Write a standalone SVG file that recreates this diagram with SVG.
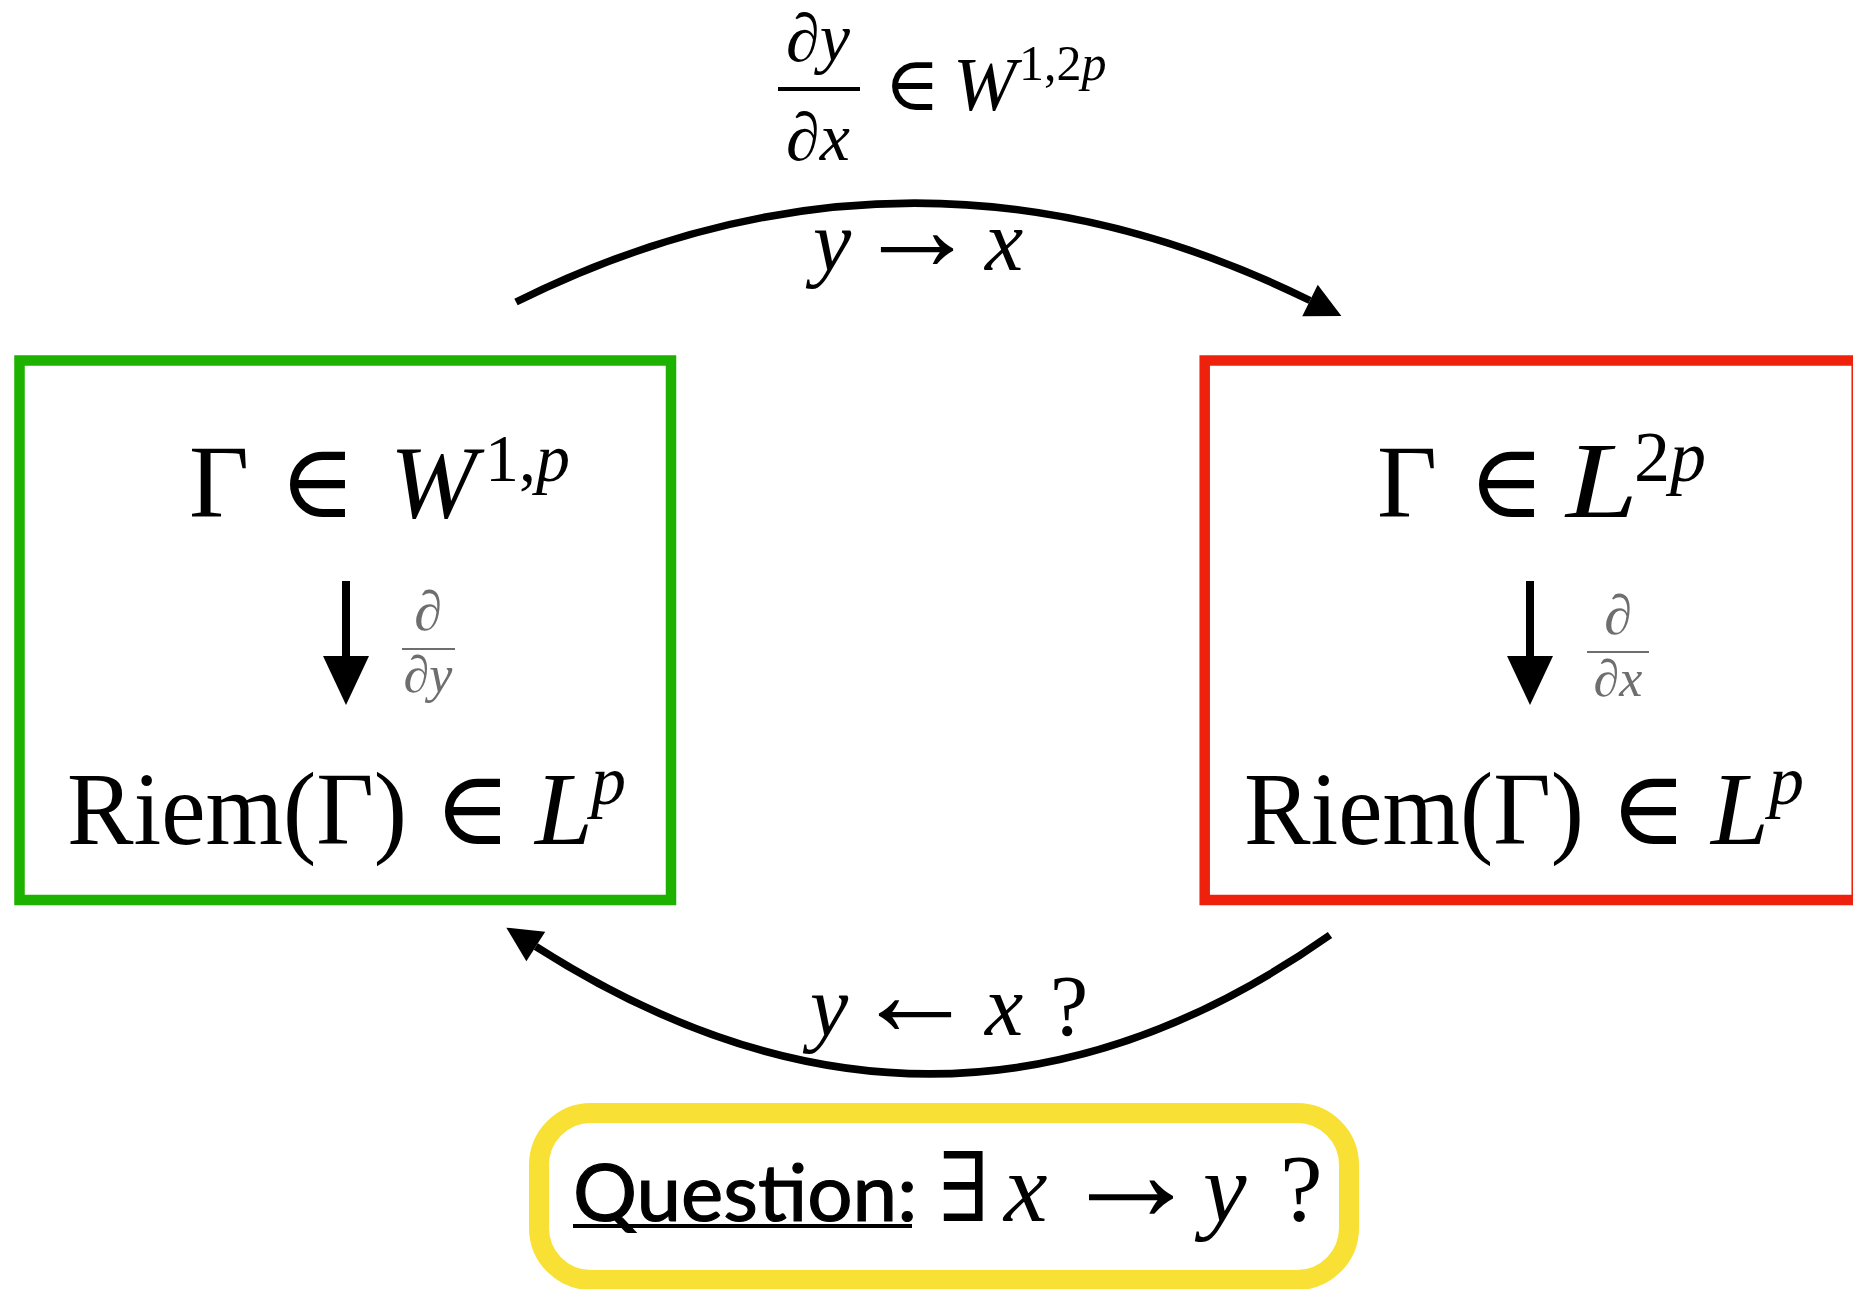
<svg xmlns="http://www.w3.org/2000/svg" width="1853" height="1289" viewBox="0 0 1853 1289">
<style>
.serif{font-family:"Liberation Serif","DejaVu Serif",serif;fill:#000}
.it{font-style:italic}
.gray{fill:#6e6e6e}
.conn{fill:none;stroke:#000;stroke-width:7.5}
.vconn{fill:none;stroke:#000;stroke-width:8}
.sans{font-family:Lato,"Open Sans",sans-serif;fill:#000;stroke:#000;stroke-width:1.2}
</style>
<defs>
<marker id="ah" markerUnits="userSpaceOnUse" markerWidth="40" markerHeight="40" refX="0" refY="0" orient="auto" overflow="visible">
<path d="M0,-17.5 L35,0 L0,17.5 z" fill="#000"/>
</marker>
<marker id="ahv" markerUnits="userSpaceOnUse" markerWidth="50" markerHeight="50" refX="0" refY="0" orient="auto" overflow="visible">
<path d="M0,-23 L49,0 L0,23 z" fill="#000"/>
</marker>
</defs>
<rect width="1853" height="1289" fill="#fff"/>

<g id="connectors">
<path class="conn" d="M516,302 Q913,105 1310,300.5" marker-end="url(#ah)"/>
<path class="conn" d="M1330,935 Q943.6,1207 535.8,946.5" marker-end="url(#ah)"/>
</g>

<g id="label-top">
<text class="serif it" x="818" y="61" font-size="68" text-anchor="middle">∂y</text>
<rect x="778" y="87" width="82" height="4" fill="#000"/>
<text class="serif it" x="818" y="160" font-size="68" text-anchor="middle">∂x</text>
<text class="serif" x="884" y="110" font-size="76">∈</text>
<text class="serif it" x="953" y="110" font-size="76">W</text>
<text class="serif" x="1019" y="80" font-size="50">1,2<tspan class="it">p</tspan></text>
<text class="serif it" x="813" y="270" font-size="86">y</text>
<text class="serif" x="856" y="270" font-size="122">→</text>
<text class="serif it" x="985" y="270" font-size="86">x</text>
</g>

<g id="label-bottom">
<text class="serif it" x="810" y="1035" font-size="86">y</text>
<text class="serif" x="854" y="1035" font-size="122">←</text>
<text class="serif it" x="985" y="1035" font-size="86">x</text>
<text class="serif" x="1050" y="1035" font-size="86">?</text>
</g>

<g id="node-left">
<rect x="19.5" y="360.5" width="651.5" height="539.5" fill="none" stroke="#1db100" stroke-width="10.5"/>
<text class="serif" x="189" y="517" font-size="104">Γ</text>
<text class="serif" x="279" y="517" font-size="104">∈</text>
<text class="serif it" x="390" y="517" font-size="104">W</text>
<text class="serif" x="485" y="481" font-size="68">1,<tspan class="it">p</tspan></text>
<path class="vconn" d="M346,581 V656" marker-end="url(#ahv)"/>
<text class="serif it gray" x="428" y="630" font-size="56" text-anchor="middle">∂</text>
<rect x="402" y="648" width="53" height="2" fill="#6e6e6e"/>
<text class="serif it gray" x="428" y="692" font-size="52" text-anchor="middle">∂y</text>
<text class="serif" x="67" y="844" font-size="104" textLength="340" lengthAdjust="spacingAndGlyphs">Riem(Γ)</text>
<text class="serif" x="434" y="844" font-size="104">∈</text>
<text class="serif it" x="535" y="844" font-size="104">L</text>
<text class="serif it" x="591" y="804" font-size="70">p</text>
</g>

<g id="node-right">
<rect x="1204.7" y="360.5" width="652" height="539.5" fill="none" stroke="#ee220c" stroke-width="10.5"/>
<text class="serif" x="1377" y="517" font-size="104">Γ</text>
<text class="serif" x="1468" y="517" font-size="104">∈</text>
<text class="serif it" x="1566" y="517" font-size="108" textLength="72" lengthAdjust="spacingAndGlyphs">L</text>
<text class="serif" x="1634" y="481" font-size="72">2<tspan class="it">p</tspan></text>
<path class="vconn" d="M1530,581 V656" marker-end="url(#ahv)"/>
<text class="serif it gray" x="1618" y="634" font-size="56" text-anchor="middle">∂</text>
<rect x="1587" y="651" width="62" height="2" fill="#6e6e6e"/>
<text class="serif it gray" x="1618" y="696" font-size="52" text-anchor="middle">∂x</text>
<text class="serif" x="1244" y="844" font-size="104" textLength="340" lengthAdjust="spacingAndGlyphs">Riem(Γ)</text>
<text class="serif" x="1610" y="844" font-size="104">∈</text>
<text class="serif it" x="1711" y="844" font-size="104">L</text>
<text class="serif it" x="1769" y="804" font-size="70">p</text>
</g>

<g id="node-question">
<rect x="539" y="1113" width="810" height="167" rx="52" ry="52" fill="none" stroke="#f8e034" stroke-width="20"/>
<text class="sans" x="573" y="1221" font-size="80">Question:</text>
<rect x="573" y="1224" width="339" height="4" fill="#000"/>
<text class="serif" x="938" y="1221" font-size="96">∃</text>
<text class="serif it" x="1004" y="1221" font-size="98">x</text>
<text class="serif" x="1060" y="1221" font-size="142">→</text>
<text class="serif it" x="1203" y="1221" font-size="98">y</text>
<text class="serif" x="1280" y="1221" font-size="96">?</text>
</g>
</svg>
